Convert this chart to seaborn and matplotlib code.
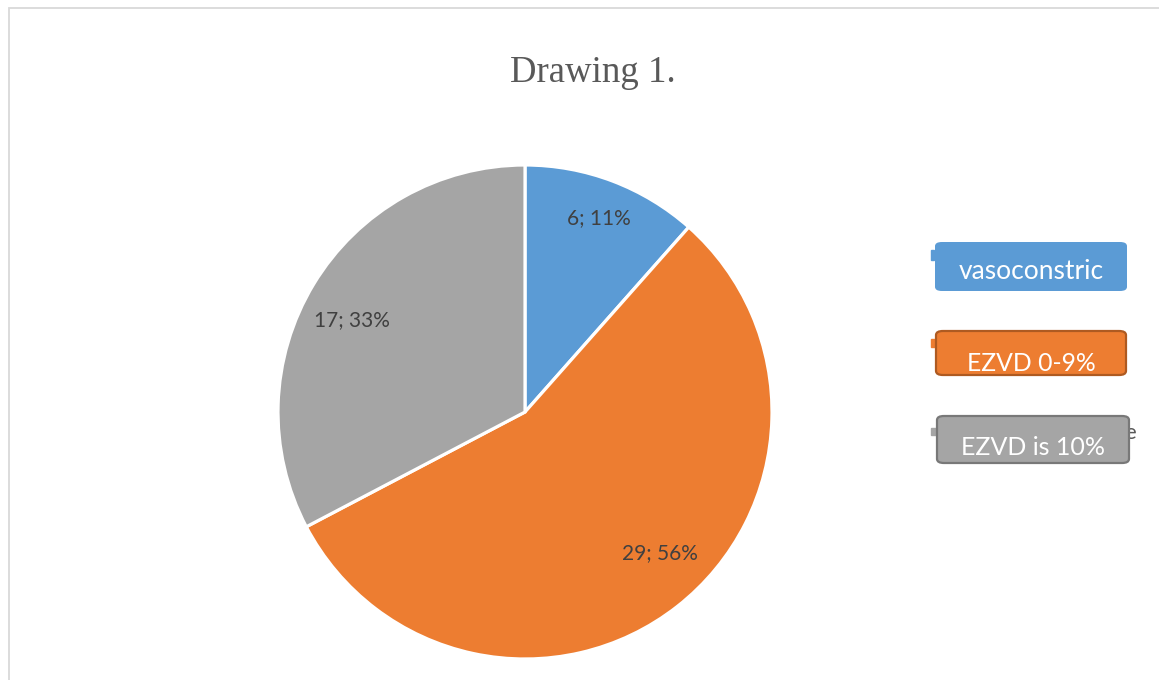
import numpy as np
import matplotlib
matplotlib.use("Agg")
import matplotlib.pyplot as plt
import seaborn as sns
from matplotlib.patches import FancyBboxPatch, Rectangle

# ---- data ----
categories = ["vasoconstric", "EZVD 0-9%", "EZVD is 10%"]
values = [6, 29, 17]
label_texts = ["6; 11%", "29; 56%", "17; 33%"]
title = "Drawing 1."

sns.set_theme(style="white")
plt.rcParams["font.family"] = ["Lato", "DejaVu Sans"]

colors = ["#5B9BD5", "#ED7D31", "#A5A5A5"]
edge_dark = [None, "#AE5A21", "#787878"]

W, H = 1159, 680
fig = plt.figure(figsize=(W / 100, H / 100), dpi=100)
fig.patch.set_facecolor("white")

def fx(px):
    return px / W

def fy(py):
    return 1 - py / H

# chart border
fig.patches.append(Rectangle((fx(8.5), fy(700)), fx(1200), (700 - 8.5) / H,
                             transform=fig.transFigure, fill=False,
                             edgecolor="#D9D9D9", lw=1.3, zorder=0))

# pie axes
cx, cy, r = 525, 412, 247
ax = fig.add_axes([fx(cx - r), fy(cy + r), 2 * r / W, 2 * r / H])
idx = iter(range(len(values)))
wedges, texts, autotexts = ax.pie(
    values, colors=colors, startangle=90, counterclock=False,
    wedgeprops=dict(edgecolor="white", linewidth=2.3),
    autopct=lambda p: label_texts[next(idx)], pctdistance=0.8,
    textprops=dict(color="#404040", fontsize=15))
ax.set_xlim(-1, 1)
ax.set_ylim(-1, 1)
ax.set_axis_off()

# fine-tune label placement (radial distance, angular shift in degrees)
dists = [0.84, 0.79, 0.795]
shifts = [0.0, 5.6, 3.2]
for w, t, d, s in zip(wedges, autotexts, dists, shifts):
    ang = np.deg2rad((w.theta1 + w.theta2) / 2 + s)
    t.set_position((d * np.cos(ang), d * np.sin(ang)))

# title
fig.text(fx(593), fy(82), title, ha="center", va="baseline",
         fontsize=26.5, color="#595959", family=["Liberation Serif"])

# legend remnants (markers and a peeking letter)
for (x0, y0, w0, h0), c in zip([(931, 250, 3, 10), (931, 339, 6, 8), (931, 428, 6, 7)], colors):
    fig.patches.append(Rectangle((fx(x0), fy(y0 + h0)), w0 / W, h0 / H,
                                 transform=fig.transFigure, color=c, zorder=2))
fig.text(fx(1130), fy(433), "e", ha="center", va="center", fontsize=16,
         color="#595959", zorder=2)

# legend boxes with white text
boxes = [(935, 242, 192, 49), (936, 331, 190, 44), (937, 416, 192, 47)]
text_frac = [0.61, 0.73, 0.66]
text_sizes = [19, 17.8, 18]
for (x0, y0, bw, bh), c, ec, lab, tf, ts in zip(boxes, colors, edge_dark, categories,
                                                text_frac, text_sizes):
    p = FancyBboxPatch((fx(x0), fy(y0 + bh)), bw / W, bh / H,
                       boxstyle="round,pad=0,rounding_size=0.006",
                       transform=fig.transFigure, facecolor=c,
                       edgecolor=ec if ec else c, lw=1.6 if ec else 0, zorder=3)
    fig.patches.append(p)
    fig.text(fx(x0 + bw / 2), fy(y0 + bh * tf), lab, ha="center", va="center",
             fontsize=ts, color="white", zorder=4)

fig.savefig("out.png", dpi=100)
